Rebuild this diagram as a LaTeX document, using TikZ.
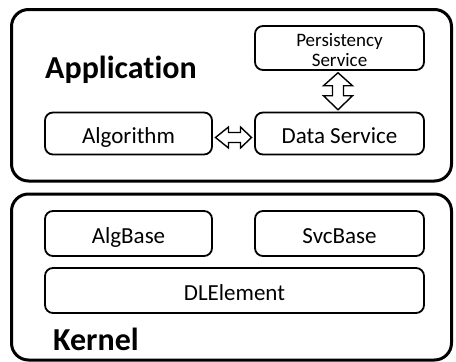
\documentclass[tikz,border=0pt]{standalone}
\usepackage{fontspec}
\setmainfont[Ligatures={NoCommon}]{Carlito}
\usetikzlibrary{calc}
\begin{document}
\begin{tikzpicture}[x=1pt,y=-1pt,
  layer/.style={draw,line width=3pt,rounded corners=17pt},
  comp/.style={draw,line width=1.8pt,rounded corners=8pt,inner sep=0pt,font=\fontsize{23}{27}\selectfont,text height=19pt,text depth=0pt},
  title/.style={font=\fontsize{32}{36}\selectfont\bfseries,inner sep=0pt},
  harrow/.style={draw,line width=1.4pt,fill=white,line join=miter}]
\useasboundingbox (0,0) rectangle (456,362);
% layers
\draw[layer] (11.5,9.5) rectangle (451.5,181);
\draw[layer] (11.5,194) rectangle (451.5,360);
% application
\node[title,anchor=base west] (app) at (45,78) {Application};
\node[draw,line width=1.8pt,rounded corners=8pt,inner sep=0pt,minimum width=169pt,minimum height=44pt] (ps) at (339.5,48) {};
\node[font=\fontsize{19}{20}\selectfont,align=center,inner sep=0pt,anchor=base] (pst) at (339.5,66.5) {Persistency\\Service};
\node[comp,minimum width=167pt,minimum height=42pt] (alg) at (128.5,133.5) {Algorithm};
\node[comp,minimum width=169pt,minimum height=42pt] (ds) at (339.5,133.5) {Data Service};
% horizontal double arrow between alg and ds
\coordinate (hc) at ($(alg.east)!0.5!(ds.west)+(0,4)$);
\draw[harrow] ($(hc)+(-18,0)$) -- ++(13,-10.5) -- ++(0,5.5) -- ++(12,0) -- ++(0,-5.5)
  -- ++(11,10.5) -- ++(-11,10.5) -- ++(0,-5.5) -- ++(-12,0) -- ++(0,5.5) -- cycle;
% vertical double arrow between ps and ds
\coordinate (vc) at ($(ps.south)!0.5!(ds.north)+(-1.5,0)$);
\draw[harrow] ($(vc)+(0,-18.5)$) -- ++(14.5,13) -- ++(-9,0) -- ++(0,10) -- ++(9,0)
  -- ++(-14.5,14) -- ++(-14.5,-14) -- ++(9,0) -- ++(0,-10) -- ++(-9,0) -- cycle;
% kernel
\node[comp,minimum width=167pt,minimum height=45pt] (ab) at (128.5,233.5) {AlgBase};
\node[comp,minimum width=169pt,minimum height=45pt] (sb) at (339.5,233.5) {SvcBase};
\node[comp,minimum width=379pt,minimum height=45pt] (dl) at (234.5,290.5) {DLElement};
\node[title,anchor=base west] (ker) at (53,350) {Kernel};
\end{tikzpicture}
\end{document}
